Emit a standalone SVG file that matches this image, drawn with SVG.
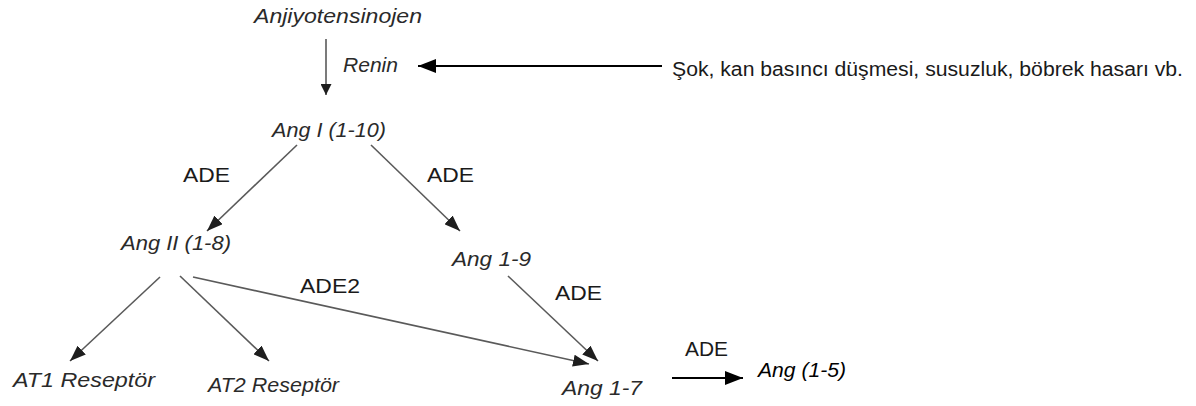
<svg xmlns="http://www.w3.org/2000/svg" width="1196" height="406" viewBox="0 0 1196 406">
<style>
text { font-family: "Liberation Sans", Arial, sans-serif; font-size: 20px; fill: #1a1a1a; }
.it { font-style: italic; fill: #2a2a2a; }
.g { stroke: #5a5a5a; stroke-width: 1.6; fill: none; }
.k { stroke: #000; stroke-width: 1.8; fill: none; }
</style>
<defs>
<marker id="ah" markerUnits="userSpaceOnUse" markerWidth="16" markerHeight="12" refX="16" refY="6" orient="auto">
<path d="M0,0 L16,6 L0,12 z" fill="#1e1e1e"/>
</marker>
<marker id="av" markerUnits="userSpaceOnUse" markerWidth="11" markerHeight="11" refX="11" refY="5.5" orient="auto">
<path d="M0,0 L11,5.5 L0,11 z" fill="#1e1e1e"/>
</marker>
<marker id="ak" markerUnits="userSpaceOnUse" markerWidth="18" markerHeight="14" refX="18" refY="7" orient="auto">
<path d="M0,0 L18,7 L0,14 z" fill="#000"/>
</marker>
</defs>
<rect width="1196" height="406" fill="#fff"/>
<g id="connectors">
<line class="g" x1="326" y1="39" x2="326" y2="95" marker-end="url(#av)"/>
<line class="k" x1="662" y1="66" x2="418" y2="66" marker-end="url(#ak)"/>
<line class="g" x1="297" y1="145" x2="207" y2="231" marker-end="url(#ah)"/>
<line class="g" x1="371" y1="145" x2="460" y2="231" marker-end="url(#ah)"/>
<line class="g" x1="160" y1="277" x2="70" y2="361" marker-end="url(#ah)"/>
<line class="g" x1="180" y1="276" x2="269" y2="361" marker-end="url(#ah)"/>
<line class="g" x1="193" y1="277" x2="589" y2="364" marker-end="url(#ah)"/>
<line class="g" x1="508" y1="276" x2="598" y2="361" marker-end="url(#ah)"/>
<line class="k" x1="672" y1="378" x2="743" y2="378" marker-end="url(#ak)"/>
</g>
<g id="labels">
<text x="183" y="182" textLength="47" lengthAdjust="spacingAndGlyphs">ADE</text>
<text x="427" y="182" textLength="47" lengthAdjust="spacingAndGlyphs">ADE</text>
<text x="300" y="293" textLength="60" lengthAdjust="spacingAndGlyphs">ADE2</text>
<text x="555" y="300" textLength="47" lengthAdjust="spacingAndGlyphs">ADE</text>
<text x="685" y="356" textLength="43" lengthAdjust="spacingAndGlyphs">ADE</text>
<text class="it" x="343" y="72" textLength="55" lengthAdjust="spacingAndGlyphs">Renin</text>
</g>
<g id="node-anjiyotensinojen"><text class="it" x="254" y="23" textLength="168" lengthAdjust="spacingAndGlyphs">Anjiyotensinojen</text></g>
<g id="node-causes"><text x="672" y="76" textLength="511" lengthAdjust="spacingAndGlyphs">Şok, kan basıncı düşmesi, susuzluk, böbrek hasarı vb.</text></g>
<g id="node-ang1"><text class="it" x="272" y="137" textLength="114" lengthAdjust="spacingAndGlyphs">Ang I (1-10)</text></g>
<g id="node-ang2"><text class="it" x="121" y="250" textLength="110" lengthAdjust="spacingAndGlyphs">Ang II (1-8)</text></g>
<g id="node-ang19"><text class="it" x="452" y="266" textLength="79" lengthAdjust="spacingAndGlyphs">Ang 1-9</text></g>
<g id="node-at1"><text class="it" x="13" y="387" textLength="142" lengthAdjust="spacingAndGlyphs">AT1 Reseptör</text></g>
<g id="node-at2"><text class="it" x="208" y="392" textLength="131" lengthAdjust="spacingAndGlyphs">AT2 Reseptör</text></g>
<g id="node-ang17"><text class="it" x="562" y="395" textLength="80" lengthAdjust="spacingAndGlyphs">Ang 1-7</text></g>
<g id="node-ang15"><text class="it" x="758" y="377" textLength="88" lengthAdjust="spacingAndGlyphs" style="fill:#000">Ang (1-5)</text></g>
</svg>
